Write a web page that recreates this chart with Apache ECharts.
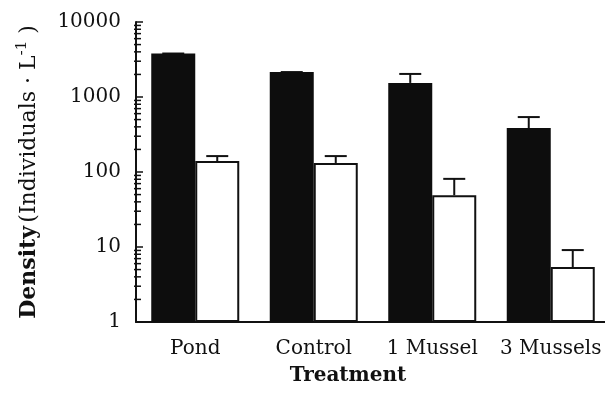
<!DOCTYPE html>
<html>
<head>
<meta charset="utf-8">
<script src="https://cdn.jsdelivr.net/npm/echarts@6/dist/echarts.min.js"></script>
<style>
  html, body { margin: 0; padding: 0; background: #fff; }
  #chart { width: 605px; height: 405px; }
</style>
</head>
<body>
<div id="chart"></div>
<script>
// values
const treatments = ['Pond', 'Control', '1 Mussel', '3 Mussels'];
const darkMean = [3800, 2150, 1540, 385];
const darkUpper = [3800, 2150, 2030, 540];
const lightMean = [140, 132, 49, 5.4];
const lightUpper = [163, 163, 81, 9.1];
const yTicks = [1, 10, 100, 1000, 10000];
const minorTicks = [];
[1, 10, 100, 1000].forEach(d => {
    for (let k = 2; k <= 9; k++) minorTicks.push(k * d);
});

const serif = 'DejaVu Serif';
const ink = '#111';
const barW = 44;

// up-only error bar, shifted left/right of the category centre
function errBar(shift) {
    return (params, api) => {
        const base = api.coord([api.value(0), api.value(1)]);
        const top = api.coord([api.value(0), api.value(2)]);
        const x = base[0] + shift;
        const style = { stroke: ink, lineWidth: 2 };
        return {
            type: 'group',
            children: [
                { type: 'line', shape: { x1: x, y1: base[1], x2: x, y2: top[1] }, style },
                { type: 'line', shape: { x1: x - 11, y1: top[1], x2: x + 11, y2: top[1] }, style }
            ]
        };
    };
}

// small log ticks (2..9 of each decade) on the y axis
function minorTick(params, api) {
    const p = api.coord([0, api.value(1)]);
    const x = p[0] - api.size([1, 0])[0] / 2;
    return {
        type: 'group',
        children: [{
            type: 'line',
            shape: { x1: x - 2, y1: p[1], x2: x + 5, y2: p[1] },
            style: { stroke: ink, lineWidth: 1.5 }
        }]
    };
}

const chart = echarts.init(document.getElementById('chart'));
chart.setOption({
    animation: false,
    grid: { left: 136, top: 22, width: 474, bottom: 83, outerBoundsMode: 'none', containLabel: false },
    xAxis: {
        type: 'category',
        data: treatments,
        axisLine: { lineStyle: { color: ink, width: 2 } },
        axisTick: { length: 4, lineStyle: { color: ink } },
        axisLabel: { color: ink, fontFamily: serif, fontSize: 20, margin: 17, interval: 0, hideOverlap: false },
        name: 'Treatment',
        nameLocation: 'middle',
        nameGap: 44,
        nameTextStyle: { color: ink, fontFamily: serif, fontSize: 20, fontWeight: 'bold', padding: [0, 50, 0, 0] }
    },
    yAxis: {
        type: 'log',
        logBase: 10,
        min: 1,
        max: 10000,
        axisLine: { show: true, lineStyle: { color: ink, width: 2 } },
        axisTick: { show: true, inside: true, length: 7, lineStyle: { color: ink, width: 1.5 } },
        axisLabel: { color: ink, fontFamily: serif, fontSize: 20, margin: 15,
            customValues: yTicks, formatter: v => String(v) },
        splitLine: { show: false },
        name: '{b|Density} {n|(Individuals · L}{s|-1}{n| )}',
        nameLocation: 'middle',
        nameGap: 93,
        nameTextStyle: {
            color: ink,
            rich: {
                b: { fontFamily: serif, fontSize: 22, fontWeight: 'bold', color: ink },
                n: { fontFamily: serif, fontSize: 22, color: ink },
                s: { fontFamily: serif, fontSize: 15, color: ink, padding: [0, 0, 13, 0] }
            }
        }
    },
    series: [
        {
            type: 'bar',
            data: darkMean,
            barWidth: barW,
            barGap: '0%',
            itemStyle: { color: '#0d0d0d' }
        },
        {
            type: 'bar',
            data: lightMean,
            barWidth: barW,
            itemStyle: { color: '#fff', borderColor: ink, borderWidth: 2 }
        },
        {
            type: 'custom',
            renderItem: errBar(-barW / 2),
            data: treatments.map((t, i) => [i, darkMean[i], darkUpper[i]]),
            z: 1
        },
        {
            type: 'custom',
            renderItem: errBar(barW / 2),
            data: treatments.map((t, i) => [i, lightMean[i], lightUpper[i]]),
            z: 1
        },
        {
            type: 'custom',
            renderItem: minorTick,
            data: minorTicks.map(v => [0, v]),
            clip: false,
            z: 5
        }
    ]
});
</script>
</body>
</html>
